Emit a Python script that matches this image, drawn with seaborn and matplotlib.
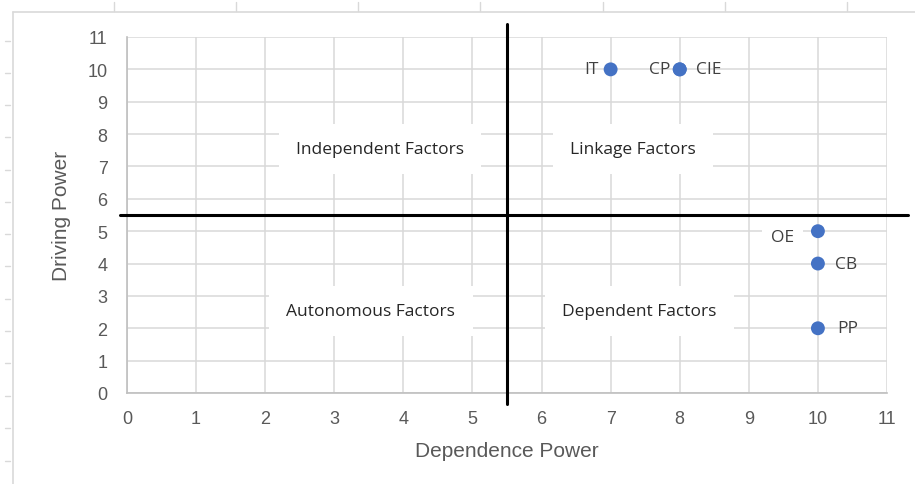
import matplotlib
matplotlib.use("Agg")
import matplotlib.pyplot as plt
from matplotlib.lines import Line2D
import numpy as np
import pandas as pd
import seaborn as sns

# factor positions (dependence, driving)
factors = ["IT", "CP", "CIE", "OE", "CB", "PP"]
dependence = [7, 8, 8, 10, 10, 10]
driving = [10, 10, 10, 5, 4, 2]

x_ticks = list(range(0, 12))
y_ticks = list(range(0, 12))
split = 5.5

quadrants = ["Independent Factors", "Linkage Factors", "Autonomous Factors", "Dependent Factors"]
quad_x = [3.66, 7.32, 3.53, 7.42]
quad_y = [7.54, 7.54, 2.53, 2.53]

if __name__ == '__main__':
    sns.set_theme(style="whitegrid")
    plt.rcParams['font.family'] = ['Liberation Sans', 'DejaVu Sans']

    df = pd.DataFrame({"factor": factors, "Dependence Power": dependence, "Driving Power": driving})

    fig = plt.figure(figsize=(9.15, 4.85), dpi=100)
    ax = fig.add_axes([127 / 915, 1 - 394 / 485, 760 / 915, 356 / 485])

    sns.scatterplot(data=df, x="Dependence Power", y="Driving Power", ax=ax,
                    color="#4472C4", s=100, edgecolor="none", zorder=5)

    ax.set_xlim(0, 11)
    ax.set_ylim(0, 11)
    ax.set_xticks(x_ticks)
    ax.set_yticks(y_ticks)
    ax.grid(True, color="#d9d9d9", linewidth=1.1)
    ax.set_axisbelow(True)
    for side in ["top", "right"]:
        ax.spines[side].set_visible(False)
    for side in ["left", "bottom"]:
        ax.spines[side].set_color("#bfbfbf")
        ax.spines[side].set_linewidth(1.2)
    ax.tick_params(axis="x", length=0, pad=12, labelsize=13, labelcolor="#595959")
    ax.tick_params(axis="y", length=0, pad=14, labelsize=13, labelcolor="#595959")
    ax.set_xlabel("Dependence Power", fontsize=15, color="#595959", labelpad=10)
    ax.set_ylabel("Driving Power", fontsize=15, color="#595959", labelpad=12)

    # quadrant dividers, running past the plot area
    ax.add_line(Line2D([split, split], [-0.35, 11.4], color="black", lw=2.2, clip_on=False, zorder=4))
    ax.add_line(Line2D([-0.1, 11.3], [split, split], color="black", lw=2.2, clip_on=False, zorder=4))

    for name, qx, qy in zip(quadrants, quad_x, quad_y):
        ax.text(qx, qy, name, ha="center", va="center", fontsize=12.5, color="#262626",
                family="Open Sans", zorder=3,
                bbox=dict(boxstyle="square,pad=1.0", facecolor="white", edgecolor="none"))

    # data labels
    offsets = {"IT": (-9, 0, "right"), "CP": (-7, 0, "right"), "CIE": (12, 0, "left"),
               "OE": (-17, -4, "right"), "CB": (12, 0, "left"), "PP": (14, 0, "left")}
    for name, xv, yv in zip(factors, dependence, driving):
        dx, dy, ha = offsets[name]
        box = None
        if name == "OE":
            box = dict(boxstyle="square,pad=0.5", facecolor="white", edgecolor="none")
        ax.annotate(name, (xv, yv), xytext=(dx, dy), textcoords="offset points",
                    ha=ha, va="center", fontsize=12.5, color="#404040",
                    family="Open Sans", zorder=6, bbox=box)

    # chart area frame and sheet cell marks
    fig.add_artist(Line2D([13 / 915, 13 / 915], [0, 1 - 13 / 485], transform=fig.transFigure,
                          color="#d9d9d9", lw=1.2))
    fig.add_artist(Line2D([13 / 915, 1], [1 - 13 / 485, 1 - 13 / 485], transform=fig.transFigure,
                          color="#d9d9d9", lw=1.2))
    for px in [114, 236, 358, 480, 603, 725, 847]:
        fig.add_artist(Line2D([px / 915, px / 915], [1 - 3 / 485, 1 - 12 / 485],
                              transform=fig.transFigure, color="#d9d9d9", lw=1))
    for py in [42, 74, 106, 138, 171, 203, 235, 267, 300, 332, 364, 397, 429, 462]:
        fig.add_artist(Line2D([5 / 915, 10 / 915], [1 - py / 485, 1 - py / 485],
                              transform=fig.transFigure, color="#d9d9d9", lw=1))

    fig.savefig("out.png", dpi=100, facecolor="white")
